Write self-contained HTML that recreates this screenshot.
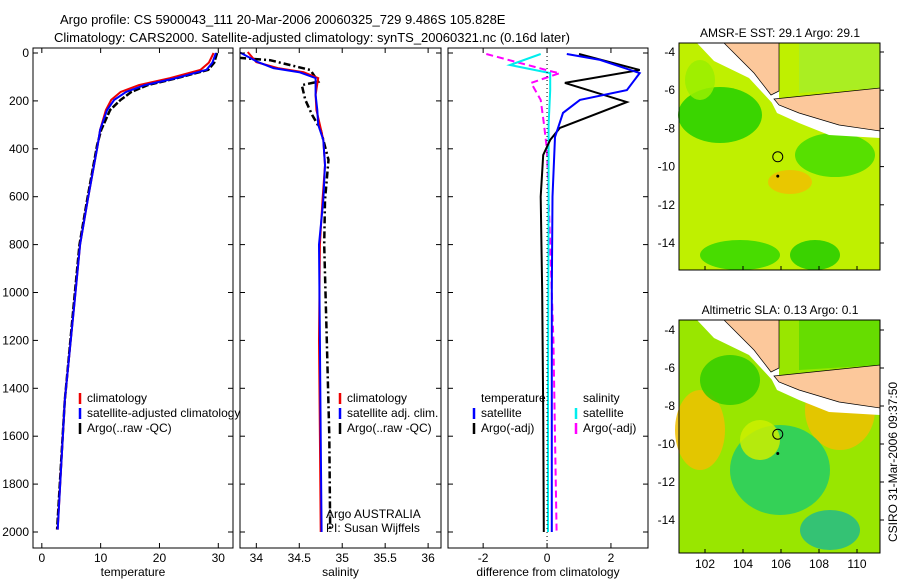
<!DOCTYPE html>
<html><head><meta charset="utf-8"><style>
body{margin:0;background:#fff;width:900px;height:580px;overflow:hidden;font-family:"Liberation Sans",sans-serif}
svg text{font-family:"Liberation Sans",sans-serif;font-size:12px;fill:#000}
</style></head><body>
<svg id="c" width="900" height="580">
<g>
<text x="60" y="24" style="font-size:13px">Argo profile: CS 5900043_111 20-Mar-2006 20060325_729 9.486S 105.828E</text>
<text x="54" y="42" style="font-size:13px">Climatology: CARS2000. Satellite-adjusted climatology: synTS_20060321.nc (0.16d later)</text>
</g>
<g id="panels"></g>
<g id="maps"></g>
<text transform="translate(897,462) rotate(-90)" text-anchor="middle">CSIRO 31-Mar-2006 09:37:50</text>
</svg>
<script>
const depthTicks=[0,200,400,600,800,1000,1200,1400,1600,1800,2000];
// temperature
const tDepth=[0,40,70,105,134,163,196,238,321,385,614,800,1030,1450,1990];
const tClim=[29.2,28.4,27.0,21.8,16.5,13.4,11.8,10.9,9.9,9.5,7.8,6.5,5.6,3.9,2.7];
const tSat=[29.6,29.0,28.0,22.8,17.5,14.3,12.3,11.1,9.9,9.5,7.8,6.5,5.6,3.9,2.7];
const tArgo=[29.8,29.3,28.3,23.0,18.0,15.2,13.4,11.6,10.1,9.4,7.7,6.4,5.5,3.9,2.6];
const tTicks=[0,10,20,30];
// salinity
const sDepth=[-4,38,63,80,105,175,238,300,363,468,614,800,1200,1600,2000];
const sClim=[33.9,34.0,34.25,34.55,34.72,34.69,34.7,34.74,34.78,34.8,34.77,34.74,34.73,34.74,34.75];
const sSat=[33.8,34.02,34.2,34.5,34.69,34.69,34.71,34.72,34.78,34.8,34.78,34.73,34.74,34.75,34.76];
const sArgoDepth=[20,30,71,120,134,196,259,321,446,614,800,1200,1600,2000];
const sArgo=[33.8,34.16,34.63,34.72,34.53,34.57,34.65,34.75,34.84,34.8,34.79,34.82,34.85,34.86];
const sTicks=[34,34.5,35,35.5,36];
// differences
const dTSatDepth=[4,29,84,155,196,250,351,600,1000,1500,2000];
const dTSat=[0.62,1.66,2.9,2.5,1.03,0.5,0.25,0.17,0.15,0.15,0.15];
const dTArgoDepth=[4,71,125,205,313,363,426,600,1000,1500,2000];
const dTArgo=[1.0,2.9,0.56,2.5,0.4,0.1,-0.12,-0.2,-0.15,-0.12,-0.1];
const dSSatDepth=[4,50,84,155,300,600,1000,1500,2000];
const dSSat=[-0.2,-1.16,0.1,0.1,0.05,0.05,0.04,0.03,0.03];
const dSArgoDepth=[4,79,84,125,196,292,405,800,1200,1600,2000];
const dSArgo=[-1.9,0.2,0.4,-0.5,-0.2,-0.1,0.0,0.1,0.2,0.25,0.3];
const dTicks=[-2,0,2];

const NS="http://www.w3.org/2000/svg";
function mk(tag,attrs,parent){const e=document.createElementNS(NS,tag);for(const k in attrs)e.setAttribute(k,attrs[k]);parent.appendChild(e);return e;}
const Y0=53,YK=0.2395;
const yS=d=>Y0+d*YK;
const panelsG=document.getElementById('panels');
function panel(name,x0,x1,vmin,vmax,ticks,label,showY){
  const g=mk('g',{},panelsG);
  
  
  const xs=v=>x0+(v-vmin)/(vmax-vmin)*(x1-x0);
  const cp=mk('clipPath',{id:name+'-clip'},g);
  mk('rect',{x:x0,y:48,width:x1-x0,height:500},cp);
  const inner=mk('g',{'clip-path':'url(#'+name+'-clip)'},g);
  const fr=mk('rect',{x:x0,y:48,width:x1-x0,height:500,fill:'none',stroke:'#000','stroke-width':1},g);
  
  
  ticks.forEach(t=>{const x=xs(t);mk('line',{x1:x,y1:548,x2:x,y2:543,stroke:'#000'},g);mk('line',{x1:x,y1:48,x2:x,y2:53,stroke:'#000'},g);
    const tx=mk('text',{x:x,y:562,'text-anchor':'middle'},g);tx.textContent=t;
    
    });
  depthTicks.forEach(d=>{const y=yS(d);mk('line',{x1:x0,y1:y,x2:x0+5,y2:y,stroke:'#000'},g);mk('line',{x1:x1,y1:y,x2:x1-5,y2:y,stroke:'#000'},g);
    if(showY){const tx=mk('text',{x:x0-4,y:y+4,'text-anchor':'end'},g);tx.textContent=d;
      
      }});
  const lb=mk('text',{x:(x0+x1)/2,y:576,'text-anchor':'middle'},g);lb.textContent=label;
  
  
  return {g,inner,xs};
}
function line(p,vals,depths,color,w,dash,name){
  const pts=vals.map((v,i)=>p.xs(v).toFixed(1)+','+yS(depths[i]).toFixed(1)).join(' ');
  const l=mk('polyline',{points:pts,fill:'none',stroke:color,'stroke-width':w,'stroke-dasharray':dash||'none'},p.inner);
  
  
}
function legend(p,x,y,items){
  items.forEach((it,i)=>{const yy=y+i*15;mk('line',{x1:x,y1:yy-9,x2:x,y2:yy+2,stroke:it[1],'stroke-width':2.5},p.g);
    const t=mk('text',{x:x+7,y:yy},p.g);t.textContent=it[0];
    
    });
}
const p1=panel('temperature-panel',33,233,-1.5,32.5,tTicks,'temperature',true);
line(p1,tArgo,tDepth,'#000',2.5,'7,2','argo-temperature-line');
line(p1,tClim,tDepth,'#e00',2,'','climatology-temperature-line');
line(p1,tSat,tDepth,'#00f',2,'','satellite-temperature-line');
legend(p1,80,402,[['climatology','#e00'],['satellite-adjusted climatology','#00f'],['Argo(..raw -QC)','#000']]);

const p2=panel('salinity-panel',240,441,33.81,36.15,sTicks,'salinity',false);
line(p2,sArgo,sArgoDepth,'#000',2.5,'7,3,2,3','argo-salinity-line');
line(p2,sClim,sDepth,'#e00',2,'','climatology-salinity-line');
line(p2,sSat,sDepth,'#00f',2,'','satellite-salinity-line');
legend(p2,340,402,[['climatology','#e00'],['satellite adj. clim.','#00f'],['Argo(..raw -QC)','#000']]);
const a1=mk('text',{x:326,y:518},p2.g);a1.textContent='Argo AUSTRALIA';
const a2=mk('text',{x:326,y:532},p2.g);a2.textContent='PI: Susan Wijffels';

const p3=panel('difference-panel',448,648,-3.1,3.16,dTicks,'difference from climatology',false);
mk('line',{x1:p3.xs(0),y1:48,x2:p3.xs(0),y2:548,stroke:'#000','stroke-dasharray':'1,3'},p3.g);
line(p3,dSArgo,dSArgoDepth,'#f0f',2,'7,4','argo-salinity-diff-line');
line(p3,dSSat,dSSatDepth,'#0ee',2,'','satellite-salinity-diff-line');
line(p3,dTArgo,dTArgoDepth,'#000',2,'','argo-temperature-diff-line');
line(p3,dTSat,dTSatDepth,'#00f',2,'','satellite-temperature-diff-line');
const h1=mk('text',{x:481,y:402},p3.g);h1.textContent='temperature';
const h2=mk('text',{x:583,y:402},p3.g);h2.textContent='salinity';
legend(p3,474,417,[['satellite','#00f'],['Argo(-adj)','#000']]);
legend(p3,576,417,[['satellite','#0ee'],['Argo(-adj)','#f0f']]);

// maps
const mapsG=document.getElementById('maps');
function map(name,title,y0,y1,latTop,latBot,blobs){
  const g=mk('g',{},mapsG);
  
  
  const x0=679,x1=880;
  const lx=lon=>705+(lon-102)*19;
  const ly=lat=>latTop+(lat+4)*(-(latBot-latTop)/10);
  mk('rect',{x:x0,y:y0,width:x1-x0,height:y1-y0,fill:blobs.bg},g);
  blobs.list.forEach(b=>mk('ellipse',{cx:b[0],cy:b[1],rx:b[2],ry:b[3],fill:b[4],opacity:0.85},g));
  // green sea north of Java
  mk('polygon',{points:`${x0+120},${y0} ${x0+201},${y0} ${x0+201},${y0+45} ${x0+120},${y0+50}`,fill:blobs.ne},g);
  // white coastal band and land
  mk('polygon',{points:`${x0+18},${y0} ${x0+100},${y0} ${x0+100},${y0+58} ${x0+95},${y0+62} ${x0+70},${y0+35} ${x0+35},${y0+18}`,fill:'#fff'},g);
  mk('polygon',{points:`${x0+45},${y0} ${x0+100},${y0} ${x0+100},${y0+48} ${x0+92},${y0+52} ${x0+75},${y0+30}`,fill:'#fcc89b',stroke:'#000','stroke-width':0.7},g);
  mk('polygon',{points:`${x0+92},${y0+58} ${x0+201},${y0+50} ${x0+201},${y0+95} ${x0+150},${y0+92} ${x0+120},${y0+80} ${x0+98},${y0+70}`,fill:'#fff'},g);
  mk('polygon',{points:`${x0+95},${y0+56} ${x0+201},${y0+45} ${x0+201},${y0+88} ${x0+160},${y0+82} ${x0+120},${y0+70} ${x0+100},${y0+62}`,fill:'#fcc89b',stroke:'#000','stroke-width':0.7},g);
  mk('circle',{cx:lx(105.83),cy:ly(-9.486),r:5,fill:'none',stroke:'#000'},g);
  mk('circle',{cx:lx(105.83),cy:ly(-10.5),r:1.5,fill:'#000'},g);
  mk('rect',{x:x0,y:y0,width:x1-x0,height:y1-y0,fill:'none',stroke:'#000'},g);
  const t=mk('text',{x:780,y:y0-6,'text-anchor':'middle'},g);t.textContent=title;
  
  
  [102,104,106,108,110].forEach(l=>{const x=lx(l);mk('line',{x1:x,y1:y1,x2:x,y2:y1-4,stroke:'#000'},g);
    if(y1>500){const tx=mk('text',{x:x,y:y1+15,'text-anchor':'middle'},g);tx.textContent=l;}});
  [-4,-6,-8,-10,-12,-14].forEach(l=>{const y=ly(l);mk('line',{x1:x1,y1:y,x2:x1+4,y2:y,stroke:'#000'},g);
    const tx=mk('text',{x:x0-4,y:y+4,'text-anchor':'end'},g);tx.textContent=l;});
}
map('sst-map','AMSR-E SST: 29.1 Argo: 29.1',43,270,52,243,{bg:'#bff000',ne:'#aaee22',list:[
 [720,115,42,28,'#22d000'],[835,155,40,22,'#44dd00'],[740,255,40,15,'#33d800'],[815,255,25,15,'#22cc00'],[790,182,22,12,'#f0c000'],[700,80,15,20,'#99ee00']]});
map('sla-map','Altimetric SLA: 0.13 Argo: 0.1',320,553,330,520,{bg:'#99e600',ne:'#66dd00',list:[
 [700,430,25,40,'#f0c000'],[840,410,35,40,'#f0c000'],[780,470,50,45,'#22cc66'],[830,530,30,20,'#22bb88'],[730,380,30,25,'#33cc00'],[760,440,20,20,'#ccee00']]});
</script>
</body></html>
